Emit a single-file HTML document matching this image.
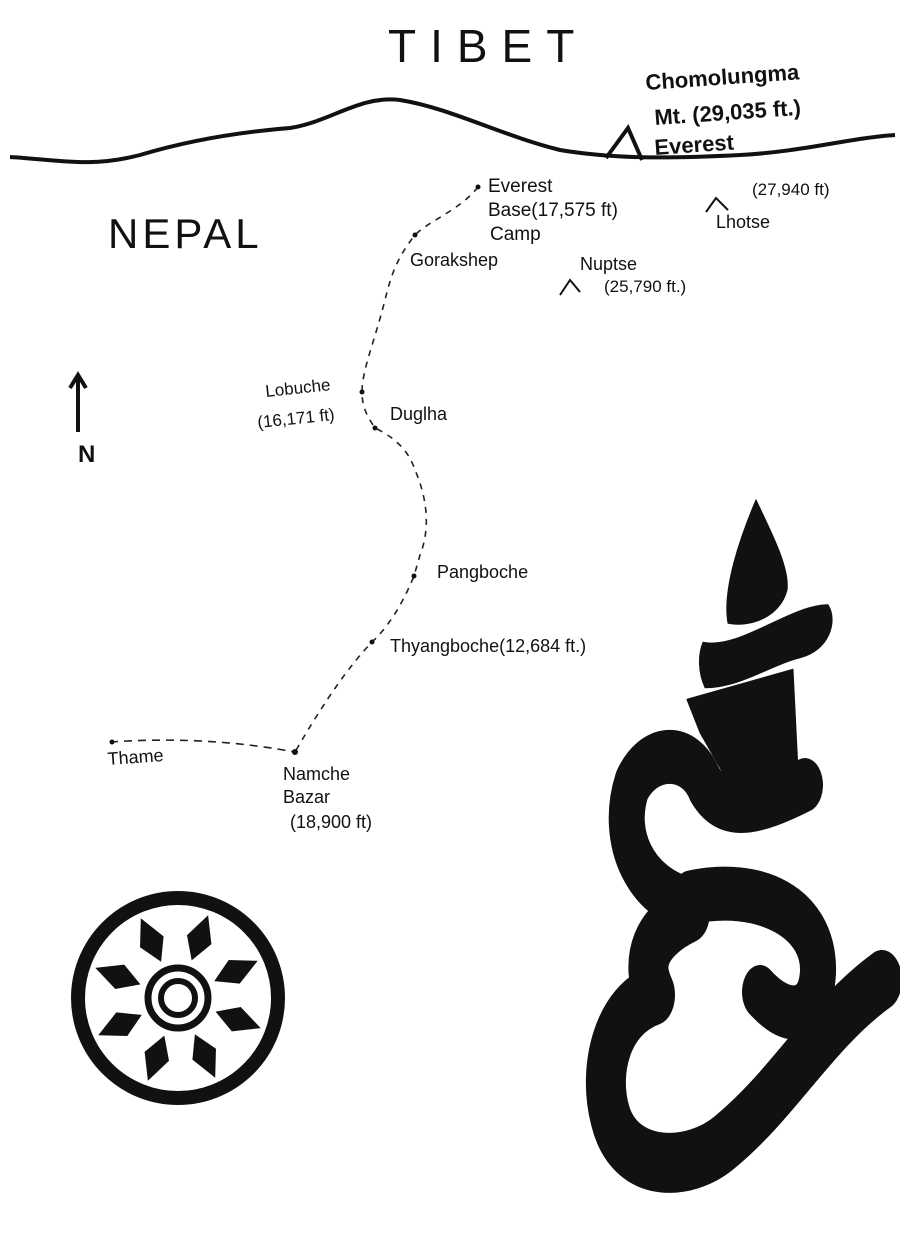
<!DOCTYPE html>
<html><head><style>
body{margin:0;background:#fff}
svg{display:block}
text{font-family:"Liberation Sans",sans-serif;fill:#111}
</style></head><body>
<svg width="900" height="1237" viewBox="0 0 900 1237">
<rect width="900" height="1237" fill="#fff"/>
<text x="388" y="62" font-size="46" letter-spacing="14">TIBET</text>
<text x="108" y="248" font-size="42" letter-spacing="4">NEPAL</text>
<path d="M10 157 C 60 160, 90 168, 140 155 C 190 140, 240 132, 290 128 C 330 122, 360 95, 400 100 C 450 108, 500 135, 560 150 C 620 160, 680 158, 740 155 C 800 152, 850 138, 895 135" fill="none" stroke="#111" stroke-width="4"/>
<path d="M606 158 L628 128 L642 160" fill="none" stroke="#111" stroke-width="4"/>
<text x="646" y="90" font-size="22" font-weight="bold" transform="rotate(-4 646 90)">Chomolungma</text>
<text x="655" y="125" font-size="22" font-weight="bold" transform="rotate(-4 655 125)">Mt. (29,035 ft.)</text>
<text x="655" y="155" font-size="22" font-weight="bold" transform="rotate(-4 655 155)">Everest</text>
<path d="M706 212 L716 198 L728 210" fill="none" stroke="#111" stroke-width="2"/>
<text x="752" y="195" font-size="17">(27,940 ft)</text>
<text x="716" y="228" font-size="18">Lhotse</text>
<path d="M560 295 L570 280 L580 292" fill="none" stroke="#111" stroke-width="2"/>
<text x="580" y="270" font-size="18">Nuptse</text>
<text x="604" y="292" font-size="17">(25,790 ft.)</text>
<path d="M478 187 C 460 210, 430 220, 415 235 C 395 260, 390 280, 385 300 C 375 340, 362 370, 362 392 C 362 410, 370 420, 375 428 C 400 440, 410 455, 415 470 C 428 500, 430 530, 420 555 L414 576 C 400 610, 385 630, 372 642 C 350 665, 325 700, 295 752" fill="none" stroke="#222" stroke-width="1.6" stroke-dasharray="6 6"/>
<path d="M110 742 C 170 738, 230 740, 295 752" fill="none" stroke="#222" stroke-width="1.6" stroke-dasharray="8 6"/>
<g fill="#111"><circle cx="478" cy="187" r="2.5"/><circle cx="415" cy="235" r="2.5"/><circle cx="362" cy="392" r="2.5"/><circle cx="375" cy="428" r="2.5"/><circle cx="414" cy="576" r="2.5"/><circle cx="372" cy="642" r="2.5"/><circle cx="295" cy="752" r="3"/><circle cx="112" cy="742" r="2.5"/></g>
<text x="488" y="192" font-size="19">Everest</text>
<text x="488" y="216" font-size="19">Base(17,575 ft)</text>
<text x="490" y="240" font-size="19">Camp</text>
<text x="410" y="266" font-size="18">Gorakshep</text>
<text x="266" y="397" font-size="17" transform="rotate(-6 266 397)">Lobuche</text>
<text x="258" y="428" font-size="17" transform="rotate(-6 258 428)">(16,171 ft)</text>
<text x="390" y="420" font-size="18">Duglha</text>
<text x="437" y="578" font-size="18">Pangboche</text>
<text x="390" y="652" font-size="18">Thyangboche(12,684 ft.)</text>
<text x="108" y="765" font-size="18" transform="rotate(-4 108 765)">Thame</text>
<text x="283" y="780" font-size="18">Namche</text>
<text x="283" y="803" font-size="18">Bazar</text>
<text x="290" y="828" font-size="18">(18,900 ft)</text>
<path d="M78 432 L78 375 M70 388 L78 375 L86 388" fill="none" stroke="#111" stroke-width="4"/>
<text x="78" y="462" font-size="24" font-weight="bold">N</text>
<!-- wheel -->
<g transform="translate(178 998)">
<circle r="100" fill="none" stroke="#111" stroke-width="14"/>
<circle r="30" fill="none" stroke="#111" stroke-width="7"/>
<circle r="17" fill="none" stroke="#111" stroke-width="6"/>
<g fill="#111" transform="rotate(20)">
<path id="p" d="M0 -40 L13 -62 L0 -88 L-13 -62 Z"/>
<use href="#p" transform="rotate(45)"/><use href="#p" transform="rotate(90)"/><use href="#p" transform="rotate(135)"/><use href="#p" transform="rotate(180)"/><use href="#p" transform="rotate(225)"/><use href="#p" transform="rotate(270)"/><use href="#p" transform="rotate(315)"/>
</g>
</g>
<!-- Om -->
<g fill="#111" stroke="#111" stroke-linejoin="round" stroke-linecap="round" transform="translate(0 500) scale(1 1.5) translate(0 -500)">
<path d="M756 500 C 770 520, 790 545, 787 560 C 780 578, 750 585, 728 582 C 722 560, 740 525, 756 500 Z"/>
<path d="M703 595 C 740 600, 790 570, 828 570 C 838 580, 830 600, 800 605 C 770 610, 740 625, 705 625 C 698 615, 698 603, 703 595 Z"/>
<path d="M687 633 L793 613 L798 680 L815 700 L760 718 L730 690 L700 655 Z"/>
<path d="M805 690 C 760 705, 725 712, 705 690 C 690 665, 650 665, 632 690 C 615 725, 640 762, 692 770" fill="none" stroke-width="36"/>
<path d="M690 765 C 760 755, 820 775, 818 815 C 815 845, 790 850, 760 828" fill="none" stroke-width="36"/>
<path d="M690 775 C 650 788, 640 808, 655 830 C 612 840, 598 880, 610 910 C 625 950, 690 948, 725 928 C 785 895, 820 850, 882 820" fill="none" stroke-width="40"/>
</g>
</svg>
</body></html>
